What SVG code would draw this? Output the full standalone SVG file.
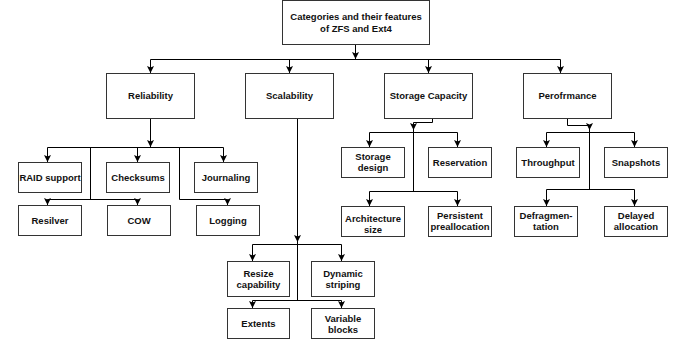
<svg xmlns="http://www.w3.org/2000/svg" width="682" height="343" viewBox="0 0 682 343">
<style>
.b{fill:#fff;stroke:#333;stroke-width:1}
.t{font-family:"Liberation Sans",Arial,sans-serif;font-weight:bold;font-size:9.5px;fill:#111;text-anchor:middle}
.c path{fill:none;stroke:#000;stroke-width:1}
.c path.a{marker-end:url(#ah)}
</style>
<defs>
<marker id="ah" markerUnits="userSpaceOnUse" viewBox="0 0 7 7" markerWidth="7" markerHeight="7" refX="7" refY="3.5" orient="auto">
<path d="M0,0 L7,3.5 L0,7 L1.5,3.5 Z" fill="#000"/>
</marker>
</defs>
<rect width="682" height="343" fill="#fff"/>
<g class="c" id="connectors">
<path class="a" d="M355.5,44.5 V59"/>
<path d="M150.5,59.5 H560.5"/>
<path class="a" d="M150.5,59.5 V73"/>
<path class="a" d="M289.5,59.5 V73"/>
<path class="a" d="M428.5,59.5 V73"/>
<path class="a" d="M560.5,59.5 V73"/>
<path class="a" d="M150.5,118.5 V147"/>
<path d="M47.5,147.5 H223.5"/>
<path class="a" d="M47.5,147.5 V162"/>
<path class="a" d="M137.5,147.5 V162"/>
<path class="a" d="M223.5,147.5 V162"/>
<path d="M90.5,147.5 V199.5"/>
<path class="a" d="M179.5,147.5 V199.5 H227.5 V205"/>
<path d="M47.5,199.5 H137.5"/>
<path class="a" d="M47.5,199.5 V205"/>
<path class="a" d="M137.5,199.5 V205"/>
<path class="a" d="M297.5,118.5 V242"/>
<path d="M297.5,240 V300.5"/>
<path d="M252.5,244.5 H341.5"/>
<path class="a" d="M252.5,244.5 V261"/>
<path class="a" d="M341.5,244.5 V261"/>
<path d="M252.5,300.5 H341.5"/>
<path class="a" d="M252.5,300.5 V308"/>
<path class="a" d="M341.5,300.5 V308"/>
<path class="a" d="M432.5,118.5 V122.5 H413.5 V130"/>
<path d="M413.5,128 V191.5"/>
<path d="M369.5,132.5 H457.5"/>
<path class="a" d="M369.5,132.5 V147"/>
<path class="a" d="M457.5,132.5 V147"/>
<path d="M369.5,191.5 H457.5"/>
<path class="a" d="M369.5,191.5 V206"/>
<path class="a" d="M457.5,191.5 V206"/>
<path class="a" d="M567.5,118.5 V125.5 H589.5 V130"/>
<path d="M589.5,128 V189.5"/>
<path d="M546.5,132.5 H634.5"/>
<path class="a" d="M546.5,132.5 V147"/>
<path class="a" d="M634.5,132.5 V147"/>
<path d="M546.5,189.5 H634.5"/>
<path class="a" d="M546.5,189.5 V206"/>
<path class="a" d="M634.5,189.5 V206"/>
</g>
<g id="root"><rect class="b" x="282.5" y="0.5" width="147" height="44"/><text class="t" x="356" y="20">Categories and their features</text><text class="t" x="356" y="31.5">of ZFS and Ext4</text></g>
<g id="reliability"><rect class="b" x="106.5" y="73.5" width="88" height="45"/><text class="t" x="150.5" y="99">Reliability</text></g>
<g id="scalability"><rect class="b" x="245.5" y="73.5" width="88" height="45"/><text class="t" x="289.5" y="99">Scalability</text></g>
<g id="storage-capacity"><rect class="b" x="384.5" y="73.5" width="88" height="45"/><text class="t" x="428.5" y="99">Storage Capacity</text></g>
<g id="performance"><rect class="b" x="523.5" y="73.5" width="88" height="45"/><text class="t" x="567.5" y="99">Perofrmance</text></g>
<g id="raid"><rect class="b" x="18.5" y="162.5" width="63" height="30"/><text class="t" x="50" y="180.5">RAID support</text></g>
<g id="checksums"><rect class="b" x="106.5" y="162.5" width="63" height="30"/><text class="t" x="138" y="180.5">Checksums</text></g>
<g id="journaling"><rect class="b" x="194.5" y="162.5" width="63" height="30"/><text class="t" x="226" y="180.5">Journaling</text></g>
<g id="resilver"><rect class="b" x="18.5" y="205.5" width="63" height="30"/><text class="t" x="50" y="224">Resilver</text></g>
<g id="cow"><rect class="b" x="107.5" y="205.5" width="63" height="30"/><text class="t" x="139" y="224">COW</text></g>
<g id="logging"><rect class="b" x="196.5" y="205.5" width="63" height="30"/><text class="t" x="228" y="224">Logging</text></g>
<g id="storage-design"><rect class="b" x="341.5" y="147.5" width="63" height="30"/><text class="t" x="373" y="160">Storage</text><text class="t" x="373" y="171">design</text></g>
<g id="reservation"><rect class="b" x="428.5" y="147.5" width="63" height="30"/><text class="t" x="460" y="165.5">Reservation</text></g>
<g id="architecture-size"><rect class="b" x="341.5" y="206.5" width="63" height="30"/><text class="t" x="373" y="221.5">Architecture</text><text class="t" x="373" y="233">size</text></g>
<g id="persistent-preallocation"><rect class="b" x="428.5" y="206.5" width="63" height="30"/><text class="t" x="460" y="218.5">Persistent</text><text class="t" x="460" y="230">preallocation</text></g>
<g id="throughput"><rect class="b" x="516.5" y="147.5" width="63" height="30"/><text class="t" x="548" y="165.5">Throughput</text></g>
<g id="snapshots"><rect class="b" x="604.5" y="147.5" width="63" height="30"/><text class="t" x="636" y="165.5">Snapshots</text></g>
<g id="defragmentation"><rect class="b" x="514.5" y="206.5" width="63" height="30"/><text class="t" x="546" y="218.5">Defragmen-</text><text class="t" x="546" y="230">tation</text></g>
<g id="delayed-allocation"><rect class="b" x="604.5" y="206.5" width="63" height="30"/><text class="t" x="636" y="218.5">Delayed</text><text class="t" x="636" y="230">allocation</text></g>
<g id="resize-capability"><rect class="b" x="227.5" y="261.5" width="62" height="35"/><text class="t" x="258.5" y="276.5">Resize</text><text class="t" x="258.5" y="288">capability</text></g>
<g id="dynamic-striping"><rect class="b" x="311.5" y="261.5" width="63" height="35"/><text class="t" x="343" y="276.5">Dynamic</text><text class="t" x="343" y="288">striping</text></g>
<g id="extents"><rect class="b" x="227.5" y="308.5" width="62" height="30"/><text class="t" x="258.5" y="327">Extents</text></g>
<g id="variable-blocks"><rect class="b" x="311.5" y="308.5" width="63" height="30"/><text class="t" x="343" y="321.5">Variable</text><text class="t" x="343" y="332.5">blocks</text></g>
</svg>
